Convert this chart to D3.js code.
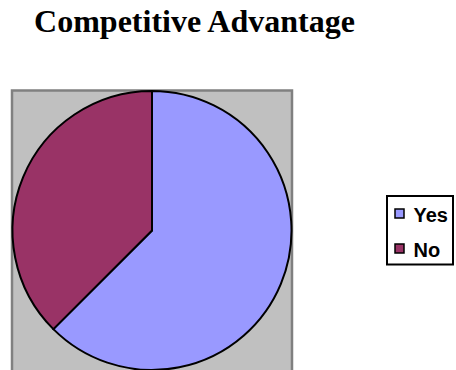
<!DOCTYPE html>
<html>
<head>
<meta charset="utf-8">
<script src="https://cdn.jsdelivr.net/npm/d3@7"></script>
<style>
  html, body { margin: 0; padding: 0; background: #ffffff; }
  svg { display: block; }
</style>
</head>
<body>
<svg id="chart" width="456" height="370"></svg>
<script>
// Survey answers
const categories = ["Yes", "No"];
const values = [62.5, 37.5];
const colors = ["#9999FF", "#993366"];
const title = "Competitive Advantage";

const svg = d3.select("#chart");

// Title
svg.append("text")
  .attr("x", 194.5)
  .attr("y", 32)
  .attr("text-anchor", "middle")
  .attr("font-family", "'Liberation Serif', 'Times New Roman', serif")
  .attr("font-weight", "bold")
  .attr("font-size", 32)
  .attr("fill", "#000")
  .text(title);

// Plot area
const cx = 152, cy = 230.5, r = 139.5;
svg.append("rect")
  .attr("x", cx - r - 0.5)
  .attr("y", cy - r - 0.5)
  .attr("width", 2 * r + 1)
  .attr("height", 2 * r + 10)
  .attr("fill", "#C0C0C0")
  .attr("stroke", "#808080")
  .attr("stroke-width", 2.5);

const color = d3.scaleOrdinal().domain(categories).range(colors);

const pie = d3.pie().sort(null).value(d => d.value);
const arc = d3.arc().innerRadius(0).outerRadius(r);
const data = categories.map((c, i) => ({ name: c, value: values[i] }));

svg.append("g")
  .attr("transform", `translate(${cx},${cy})`)
  .selectAll("path")
  .data(pie(data))
  .join("path")
  .attr("d", arc)
  .attr("fill", d => color(d.data.name))
  .attr("stroke", "#000")
  .attr("stroke-width", 2)
  .attr("stroke-linejoin", "miter");

// Legend
const lg = svg.append("g");
lg.append("rect")
  .attr("x", 387)
  .attr("y", 196)
  .attr("width", 66)
  .attr("height", 68.5)
  .attr("fill", "#fff")
  .attr("stroke", "#000")
  .attr("stroke-width", 2);

const rows = lg.selectAll("g.item")
  .data(categories)
  .join("g")
  .attr("class", "item")
  .attr("transform", (d, i) => `translate(0,${i * 35})`);

rows.append("rect")
  .attr("x", 395)
  .attr("y", 209)
  .attr("width", 9)
  .attr("height", 9)
  .attr("fill", d => color(d))
  .attr("stroke", "#000")
  .attr("stroke-width", 1.5);

rows.append("text")
  .attr("x", 413.5)
  .attr("y", 221.5)
  .attr("font-family", "'Liberation Sans', Arial, sans-serif")
  .attr("font-weight", "bold")
  .attr("font-size", 20)
  .attr("fill", "#000")
  .text(d => d);
</script>
</body>
</html>
